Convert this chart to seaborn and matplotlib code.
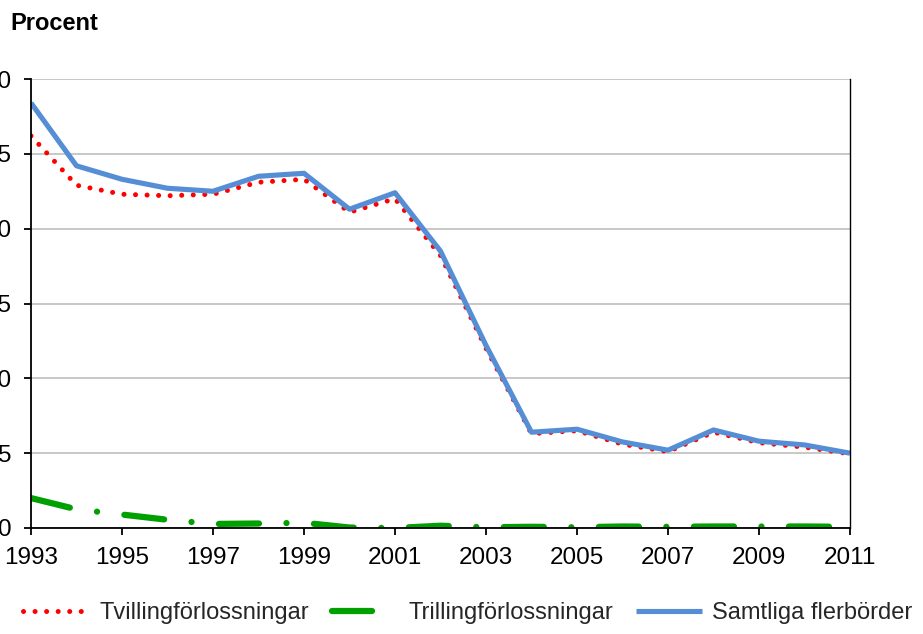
import matplotlib
matplotlib.use("Agg")
import matplotlib.pyplot as plt
import seaborn as sns
import pandas as pd

years = list(range(1993, 2012))
tvilling = [26.2, 22.9, 22.3, 22.2, 22.3, 23.1, 23.3, 21.1, 22.0, 18.2, 12.0,
            6.3, 6.5, 5.6, 5.1, 6.4, 5.7, 5.4, 4.95]
trilling = [2.0, 1.25, 0.9, 0.55, 0.27, 0.3, 0.35, 0.03, 0.0, 0.15, 0.05,
            0.08, 0.05, 0.1, 0.08, 0.1, 0.1, 0.1, 0.08]
samtliga = [28.4, 24.2, 23.3, 22.7, 22.5, 23.5, 23.7, 21.3, 22.4, 18.5, 12.2,
            6.4, 6.6, 5.75, 5.2, 6.55, 5.8, 5.55, 5.0]
labels = ["Tvillingförlossningar", "Trillingförlossningar", "Samtliga flerbörder"]
xticks = list(range(1993, 2012, 2))
yticks = [0, 5, 10, 15, 20, 25, 30]

sns.set_theme(style="white")
plt.rcParams["font.family"] = ["Liberation Sans", "DejaVu Sans"]

df = pd.DataFrame({"År": years, labels[0]: tvilling, labels[1]: trilling,
                   labels[2]: samtliga})

W, H = 923, 634
fig = plt.figure(figsize=(W / 100, H / 100), dpi=100)
ax = fig.add_axes([31 / W, 1 - 528 / H, (850 - 31) / W, (528 - 79) / H])

sns.lineplot(data=df, x="År", y=labels[0], ax=ax, color="#FF0000", linewidth=3.6,
             linestyle=(0, (0.01, 2.3)), dash_capstyle="round", label=labels[0])
sns.lineplot(data=df, x="År", y=labels[1], ax=ax, color="#00A000", linewidth=4.5,
             linestyle=(0, (6.4, 4.4, 0.01, 4.4)), dash_capstyle="round",
             label=labels[1])
sns.lineplot(data=df, x="År", y=labels[2], ax=ax, color="#558ED5", linewidth=3.7,
             solid_capstyle="butt", label=labels[2])

ax.set_xlim(1993, 2011)
ax.set_ylim(0, 30)
ax.set_xticks(xticks)
ax.set_yticks(yticks)
ax.set_xlabel("")
ax.set_ylabel("")
ax.grid(axis="y", color="#BFBFBF", linewidth=1.2)
ax.grid(axis="x", visible=False)
ax.set_axisbelow(True)
for s in ["left", "bottom", "right"]:
    ax.spines[s].set_color("black")
    ax.spines[s].set_linewidth(1.3)
ax.spines["right"].set_linewidth(1.0)
ax.spines["top"].set_visible(False)
ax.tick_params(axis="both", direction="out", length=5, width=1.3, color="black",
               labelsize=17.5, labelcolor="black")
ax.tick_params(axis="x", pad=9, bottom=True)
ax.tick_params(axis="y", pad=9, left=True)

handles, labs = ax.get_legend_handles_labels()
ax.get_legend().remove()
fig.legend(handles, labs, loc="center left", bbox_to_anchor=(23 / W, 1 - 613 / H),
           ncol=3, frameon=False, fontsize=17, handlelength=2.8,
           handletextpad=0.45, columnspacing=0.95, borderpad=0, borderaxespad=0)

fig.text(10 / W, 1 - 23 / H, "Procent", fontsize=17, fontweight="bold",
         ha="left", va="center", color="black")

fig.savefig("out.png", dpi=100)
